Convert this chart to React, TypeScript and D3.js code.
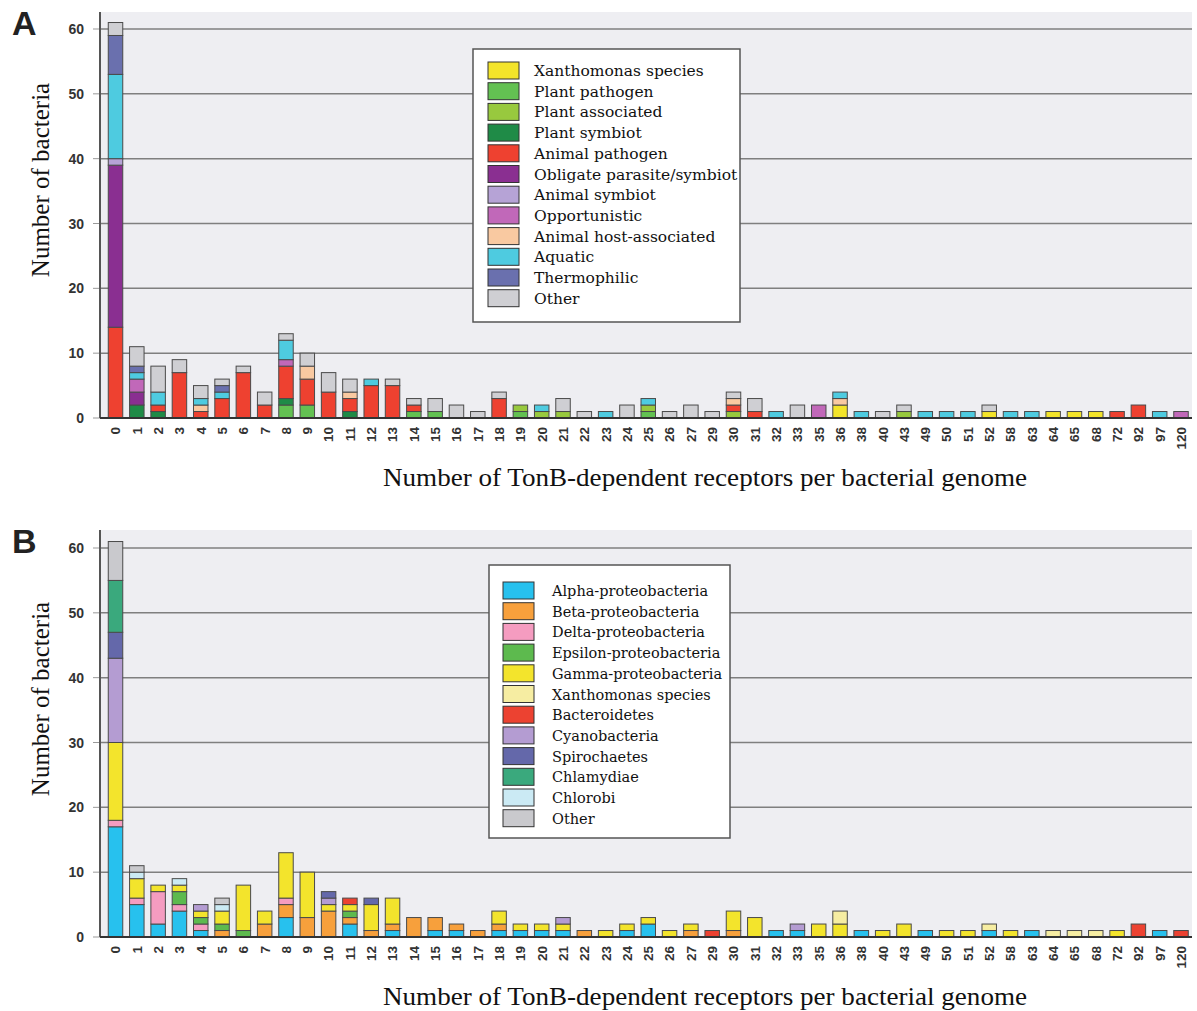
import React from "react";
import * as d3 from "d3";

// ---------- categories (number of TonB-dependent receptors) ----------
const categories = [
  "0", "1", "2", "3", "4", "5", "6", "7", "8", "9",
  "10", "11", "12", "13", "14", "15", "16", "17", "18", "19",
  "20", "21", "22", "23", "24", "25", "26", "27", "29", "30",
  "31", "32", "33", "35", "36", "38", "40", "43", "49", "50",
  "51", "52", "58", "63", "64", "65", "68", "72", "92", "97",
  "120",
];

const yTicks = [0, 10, 20, 30, 40, 50, 60];

// ---------- Panel A: lifestyle ----------
const xanthomonasA = [
  0, 0, 0, 0, 0, 0, 0, 0, 0, 0,
  0, 0, 0, 0, 0, 0, 0, 0, 0, 0,
  0, 0, 0, 0, 0, 0, 0, 0, 0, 0,
  0, 0, 0, 0, 2, 0, 0, 0, 0, 0,
  0, 1, 0, 0, 1, 1, 1, 0, 0, 0,
  0,
];
const plantPathogen = [
  0, 0, 0, 0, 0, 0, 0, 0, 2, 2,
  0, 0, 0, 0, 1, 1, 0, 0, 0, 1,
  0, 0, 0, 0, 0, 1, 0, 0, 0, 0,
  0, 0, 0, 0, 0, 0, 0, 0, 0, 0,
  0, 0, 0, 0, 0, 0, 0, 0, 0, 0,
  0,
];
const plantAssociated = [
  0, 0, 0, 0, 0, 0, 0, 0, 0, 0,
  0, 0, 0, 0, 0, 0, 0, 0, 0, 1,
  1, 1, 0, 0, 0, 1, 0, 0, 0, 1,
  0, 0, 0, 0, 0, 0, 0, 1, 0, 0,
  0, 0, 0, 0, 0, 0, 0, 0, 0, 0,
  0,
];
const plantSymbiot = [
  0, 2, 1, 0, 0, 0, 0, 0, 1, 0,
  0, 1, 0, 0, 0, 0, 0, 0, 0, 0,
  0, 0, 0, 0, 0, 0, 0, 0, 0, 0,
  0, 0, 0, 0, 0, 0, 0, 0, 0, 0,
  0, 0, 0, 0, 0, 0, 0, 0, 0, 0,
  0,
];
const animalPathogen = [
  14, 0, 1, 7, 1, 3, 7, 2, 5, 4,
  4, 2, 5, 5, 1, 0, 0, 0, 3, 0,
  0, 0, 0, 0, 0, 0, 0, 0, 0, 1,
  1, 0, 0, 0, 0, 0, 0, 0, 0, 0,
  0, 0, 0, 0, 0, 0, 0, 1, 2, 0,
  0,
];
const obligateParasite = [
  25, 2, 0, 0, 0, 0, 0, 0, 0, 0,
  0, 0, 0, 0, 0, 0, 0, 0, 0, 0,
  0, 0, 0, 0, 0, 0, 0, 0, 0, 0,
  0, 0, 0, 0, 0, 0, 0, 0, 0, 0,
  0, 0, 0, 0, 0, 0, 0, 0, 0, 0,
  0,
];
const animalSymbiot = [
  1, 0, 0, 0, 0, 0, 0, 0, 0, 0,
  0, 0, 0, 0, 0, 0, 0, 0, 0, 0,
  0, 0, 0, 0, 0, 0, 0, 0, 0, 0,
  0, 0, 0, 0, 0, 0, 0, 0, 0, 0,
  0, 0, 0, 0, 0, 0, 0, 0, 0, 0,
  0,
];
const opportunistic = [
  0, 2, 0, 0, 0, 0, 0, 0, 1, 0,
  0, 0, 0, 0, 0, 0, 0, 0, 0, 0,
  0, 0, 0, 0, 0, 0, 0, 0, 0, 0,
  0, 0, 0, 2, 0, 0, 0, 0, 0, 0,
  0, 0, 0, 0, 0, 0, 0, 0, 0, 0,
  1,
];
const animalHostAssociated = [
  0, 0, 0, 0, 1, 0, 0, 0, 0, 2,
  0, 1, 0, 0, 0, 0, 0, 0, 0, 0,
  0, 0, 0, 0, 0, 0, 0, 0, 0, 1,
  0, 0, 0, 0, 1, 0, 0, 0, 0, 0,
  0, 0, 0, 0, 0, 0, 0, 0, 0, 0,
  0,
];
const aquatic = [
  13, 1, 2, 0, 1, 1, 0, 0, 3, 0,
  0, 0, 1, 0, 0, 0, 0, 0, 0, 0,
  1, 0, 0, 1, 0, 1, 0, 0, 0, 0,
  0, 1, 0, 0, 1, 1, 0, 0, 1, 1,
  1, 0, 1, 1, 0, 0, 0, 0, 0, 1,
  0,
];
const thermophilic = [
  6, 1, 0, 0, 0, 1, 0, 0, 0, 0,
  0, 0, 0, 0, 0, 0, 0, 0, 0, 0,
  0, 0, 0, 0, 0, 0, 0, 0, 0, 0,
  0, 0, 0, 0, 0, 0, 0, 0, 0, 0,
  0, 0, 0, 0, 0, 0, 0, 0, 0, 0,
  0,
];
const otherA = [
  2, 3, 4, 2, 2, 1, 1, 2, 1, 2,
  3, 2, 0, 1, 1, 2, 2, 1, 1, 0,
  0, 2, 1, 0, 2, 0, 1, 2, 1, 1,
  2, 0, 2, 0, 0, 0, 1, 1, 0, 0,
  0, 1, 0, 0, 0, 0, 0, 0, 0, 0,
  0,
];

// ---------- Panel B: taxonomy ----------
const alphaProteo = [
  17, 5, 2, 4, 1, 0, 0, 0, 3, 0,
  0, 2, 0, 1, 0, 1, 1, 0, 1, 1,
  1, 1, 0, 0, 1, 2, 0, 0, 0, 0,
  0, 1, 1, 0, 0, 1, 0, 0, 1, 0,
  0, 1, 0, 1, 0, 0, 0, 0, 0, 1,
  0,
];
const betaProteo = [
  0, 0, 0, 0, 0, 1, 0, 2, 2, 3,
  4, 1, 1, 1, 3, 2, 1, 1, 1, 0,
  0, 0, 1, 0, 0, 0, 0, 1, 0, 1,
  0, 0, 0, 0, 0, 0, 0, 0, 0, 0,
  0, 0, 0, 0, 0, 0, 0, 0, 0, 0,
  0,
];
const deltaProteo = [
  1, 1, 5, 1, 1, 0, 0, 0, 1, 0,
  0, 0, 0, 0, 0, 0, 0, 0, 0, 0,
  0, 0, 0, 0, 0, 0, 0, 0, 0, 0,
  0, 0, 0, 0, 0, 0, 0, 0, 0, 0,
  0, 0, 0, 0, 0, 0, 0, 0, 0, 0,
  0,
];
const epsilonProteo = [
  0, 0, 0, 2, 1, 1, 1, 0, 0, 0,
  0, 1, 0, 0, 0, 0, 0, 0, 0, 0,
  0, 0, 0, 0, 0, 0, 0, 0, 0, 0,
  0, 0, 0, 0, 0, 0, 0, 0, 0, 0,
  0, 0, 0, 0, 0, 0, 0, 0, 0, 0,
  0,
];
const gammaProteo = [
  12, 3, 1, 1, 1, 2, 7, 2, 7, 7,
  1, 1, 4, 4, 0, 0, 0, 0, 2, 1,
  1, 1, 0, 1, 1, 1, 1, 1, 0, 3,
  3, 0, 0, 2, 2, 0, 1, 2, 0, 1,
  1, 0, 1, 0, 0, 0, 0, 1, 0, 0,
  0,
];
const xanthomonasB = [
  0, 0, 0, 0, 0, 0, 0, 0, 0, 0,
  0, 0, 0, 0, 0, 0, 0, 0, 0, 0,
  0, 0, 0, 0, 0, 0, 0, 0, 0, 0,
  0, 0, 0, 0, 2, 0, 0, 0, 0, 0,
  0, 1, 0, 0, 1, 1, 1, 0, 0, 0,
  0,
];
const bacteroidetes = [
  0, 0, 0, 0, 0, 0, 0, 0, 0, 0,
  0, 1, 0, 0, 0, 0, 0, 0, 0, 0,
  0, 0, 0, 0, 0, 0, 0, 0, 1, 0,
  0, 0, 0, 0, 0, 0, 0, 0, 0, 0,
  0, 0, 0, 0, 0, 0, 0, 0, 2, 0,
  1,
];
const cyanobacteria = [
  13, 0, 0, 0, 1, 0, 0, 0, 0, 0,
  1, 0, 0, 0, 0, 0, 0, 0, 0, 0,
  0, 1, 0, 0, 0, 0, 0, 0, 0, 0,
  0, 0, 1, 0, 0, 0, 0, 0, 0, 0,
  0, 0, 0, 0, 0, 0, 0, 0, 0, 0,
  0,
];
const spirochaetes = [
  4, 0, 0, 0, 0, 0, 0, 0, 0, 0,
  1, 0, 1, 0, 0, 0, 0, 0, 0, 0,
  0, 0, 0, 0, 0, 0, 0, 0, 0, 0,
  0, 0, 0, 0, 0, 0, 0, 0, 0, 0,
  0, 0, 0, 0, 0, 0, 0, 0, 0, 0,
  0,
];
const chlamydiae = [
  8, 0, 0, 0, 0, 0, 0, 0, 0, 0,
  0, 0, 0, 0, 0, 0, 0, 0, 0, 0,
  0, 0, 0, 0, 0, 0, 0, 0, 0, 0,
  0, 0, 0, 0, 0, 0, 0, 0, 0, 0,
  0, 0, 0, 0, 0, 0, 0, 0, 0, 0,
  0,
];
const chlorobi = [
  0, 1, 0, 1, 0, 1, 0, 0, 0, 0,
  0, 0, 0, 0, 0, 0, 0, 0, 0, 0,
  0, 0, 0, 0, 0, 0, 0, 0, 0, 0,
  0, 0, 0, 0, 0, 0, 0, 0, 0, 0,
  0, 0, 0, 0, 0, 0, 0, 0, 0, 0,
  0,
];
const otherB = [
  6, 1, 0, 0, 0, 1, 0, 0, 0, 0,
  0, 0, 0, 0, 0, 0, 0, 0, 0, 0,
  0, 0, 0, 0, 0, 0, 0, 0, 0, 0,
  0, 0, 0, 0, 0, 0, 0, 0, 0, 0,
  0, 0, 0, 0, 0, 0, 0, 0, 0, 0,
  0,
];

type Series = { name: string; color: string; values: number[] };

const seriesA: Series[] = [
  { name: "Xanthomonas species", color: "#f3e42a", values: xanthomonasA },
  { name: "Plant pathogen", color: "#63c152", values: plantPathogen },
  { name: "Plant associated", color: "#98c93e", values: plantAssociated },
  { name: "Plant symbiot", color: "#1f8b47", values: plantSymbiot },
  { name: "Animal pathogen", color: "#ee4130", values: animalPathogen },
  { name: "Obligate parasite/symbiot", color: "#8a2f91", values: obligateParasite },
  { name: "Animal symbiot", color: "#b6a3d6", values: animalSymbiot },
  { name: "Opportunistic", color: "#c168b9", values: opportunistic },
  { name: "Animal host-associated", color: "#f9c9a1", values: animalHostAssociated },
  { name: "Aquatic", color: "#4ecbe0", values: aquatic },
  { name: "Thermophilic", color: "#6a70ae", values: thermophilic },
  { name: "Other", color: "#cfcfd3", values: otherA },
];

const seriesB: Series[] = [
  { name: "Alpha-proteobacteria", color: "#27c1ee", values: alphaProteo },
  { name: "Beta-proteobacteria", color: "#f7a03c", values: betaProteo },
  { name: "Delta-proteobacteria", color: "#f59cc0", values: deltaProteo },
  { name: "Epsilon-proteobacteria", color: "#5dba4e", values: epsilonProteo },
  { name: "Gamma-proteobacteria", color: "#f3e42c", values: gammaProteo },
  { name: "Xanthomonas species", color: "#f6eda2", values: xanthomonasB },
  { name: "Bacteroidetes", color: "#ec4231", values: bacteroidetes },
  { name: "Cyanobacteria", color: "#b49cd2", values: cyanobacteria },
  { name: "Spirochaetes", color: "#6468aa", values: spirochaetes },
  { name: "Chlamydiae", color: "#3aa97d", values: chlamydiae },
  { name: "Chlorobi", color: "#cbeaf4", values: chlorobi },
  { name: "Other", color: "#c9c9cd", values: otherB },
];

const SANS = "'Liberation Sans', Arial, sans-serif";
const SERIF = "'Liberation Serif', 'Times New Roman', serif";
const LEGEND_SERIF = "'DejaVu Serif', 'Liberation Serif', serif";

type PanelProps = {
  letter: string;
  letterY: number;
  series: Series[];
  y0: number;
  y60: number;
  bgTop: number;
  legend: { x: number; y: number; w: number; h: number; sx: number; sy: number; tx: number; fs: number };
};

function Panel({ letter, letterY, series, y0, y60, bgTop, legend }: PanelProps) {
  const plotLeft = 100;
  const plotRight = 1192;
  const x = d3
    .scaleBand<string>()
    .domain(categories)
    .range([104.85, 1191.66])
    .paddingInner(0.32)
    .paddingOuter(0.16);
  const y = d3.scaleLinear().domain([0, 60]).range([y0, y60]);

  const rows = categories.map((c, i) => {
    const r: Record<string, number | string> = { cat: c };
    series.forEach((s) => (r[s.name] = s.values[i]));
    return r;
  });
  const stacked = d3
    .stack<Record<string, number | string>>()
    .keys(series.map((s) => s.name))
    .value((d, k) => d[k] as number)(rows);

  const bw = x.bandwidth();

  return (
    <g>
      <rect x={plotLeft} y={bgTop} width={plotRight - plotLeft} height={y0 - bgTop} fill="#eeeef2" />
      {yTicks.filter((t) => t > 0).map((t) => (
        <line key={"g" + t} x1={plotLeft} x2={plotRight} y1={y(t)} y2={y(t)} stroke="#7f7f7f" strokeWidth={1.5} />
      ))}
      {yTicks.map((t) => (
        <g key={"t" + t}>
          <line x1={93} x2={plotLeft} y1={y(t)} y2={y(t)} stroke="#999" strokeWidth={1} />
          <text x={84} y={y(t)} dy="0.36em" textAnchor="end" fontFamily={SANS} fontWeight="bold" fontSize={14} fill="#333">
            {t}
          </text>
        </g>
      ))}
      {stacked.map((layer, li) => (
        <g key={layer.key} fill={series[li].color}>
          {layer.map((d, i) =>
            d[1] - d[0] > 0 ? (
              <rect
                key={i}
                x={x(categories[i])}
                y={y(d[1])}
                width={bw}
                height={y(d[0]) - y(d[1])}
                stroke="#4a4a4a"
                strokeWidth={1}
              />
            ) : null
          )}
        </g>
      ))}
      <line x1={plotLeft} x2={plotLeft} y1={bgTop} y2={y0} stroke="#555" strokeWidth={2} />
      <line x1={plotLeft} x2={plotRight} y1={y0} y2={y0} stroke="#333" strokeWidth={2} />
      {categories.map((c) => (
        <text
          key={"x" + c}
          transform={`translate(${(x(c) as number) + bw / 2},${y0 + 9}) rotate(-90)`}
          dy="0.36em"
          textAnchor="end"
          fontFamily={SANS}
          fontWeight="bold"
          fontSize={13.5}
          fill="#333"
        >
          {c}
        </text>
      ))}
      <text x={12} y={letterY} fontFamily={SANS} fontWeight="bold" fontSize={34} fill="#222">
        {letter}
      </text>
      <text
        transform={`translate(49,${y0 - 238}) rotate(-90)`}
        textAnchor="middle"
        fontFamily={SERIF}
        fontSize={25}
        fill="#111"
      >
        Number of bacteria
      </text>
      <text
        x={705}
        y={y0 + 68}
        textAnchor="middle"
        fontFamily={SERIF}
        fontSize={25}
        textLength={644}
        lengthAdjust="spacingAndGlyphs"
        fill="#111"
      >
        Number of TonB-dependent receptors per bacterial genome
      </text>
      <g>
        <rect x={legend.x} y={legend.y} width={legend.w} height={legend.h} fill="#fff" stroke="#555" strokeWidth={1.5} />
        {series.map((s, i) => (
          <g key={"l" + i}>
            <rect x={legend.sx} y={legend.sy + i * 20.7} width={31} height={17} fill={s.color} stroke="#333" strokeWidth={1} />
            <text
              x={legend.tx}
              y={legend.sy + i * 20.7 + 14}
              fontFamily={LEGEND_SERIF}
              fontSize={legend.fs}
              fill="#111"
            >
              {s.name}
            </text>
          </g>
        ))}
      </g>
    </g>
  );
}

export default function App() {
  return (
    <svg
      width={1197}
      height={1011}
      style={{ position: "absolute", left: 0, top: 0, background: "#fff" }}
    >
      <Panel
        letter="A"
        letterY={35}
        series={seriesA}
        y0={418}
        y60={29}
        bgTop={12}
        legend={{ x: 473, y: 49, w: 267, h: 273, sx: 488, sy: 62, tx: 534, fs: 15.5 }}
      />
      <Panel
        letter="B"
        letterY={553}
        series={seriesB}
        y0={937}
        y60={548}
        bgTop={530}
        legend={{ x: 489, y: 565, w: 241, h: 273, sx: 503, sy: 582, tx: 552, fs: 14.5 }}
      />
    </svg>
  );
}
